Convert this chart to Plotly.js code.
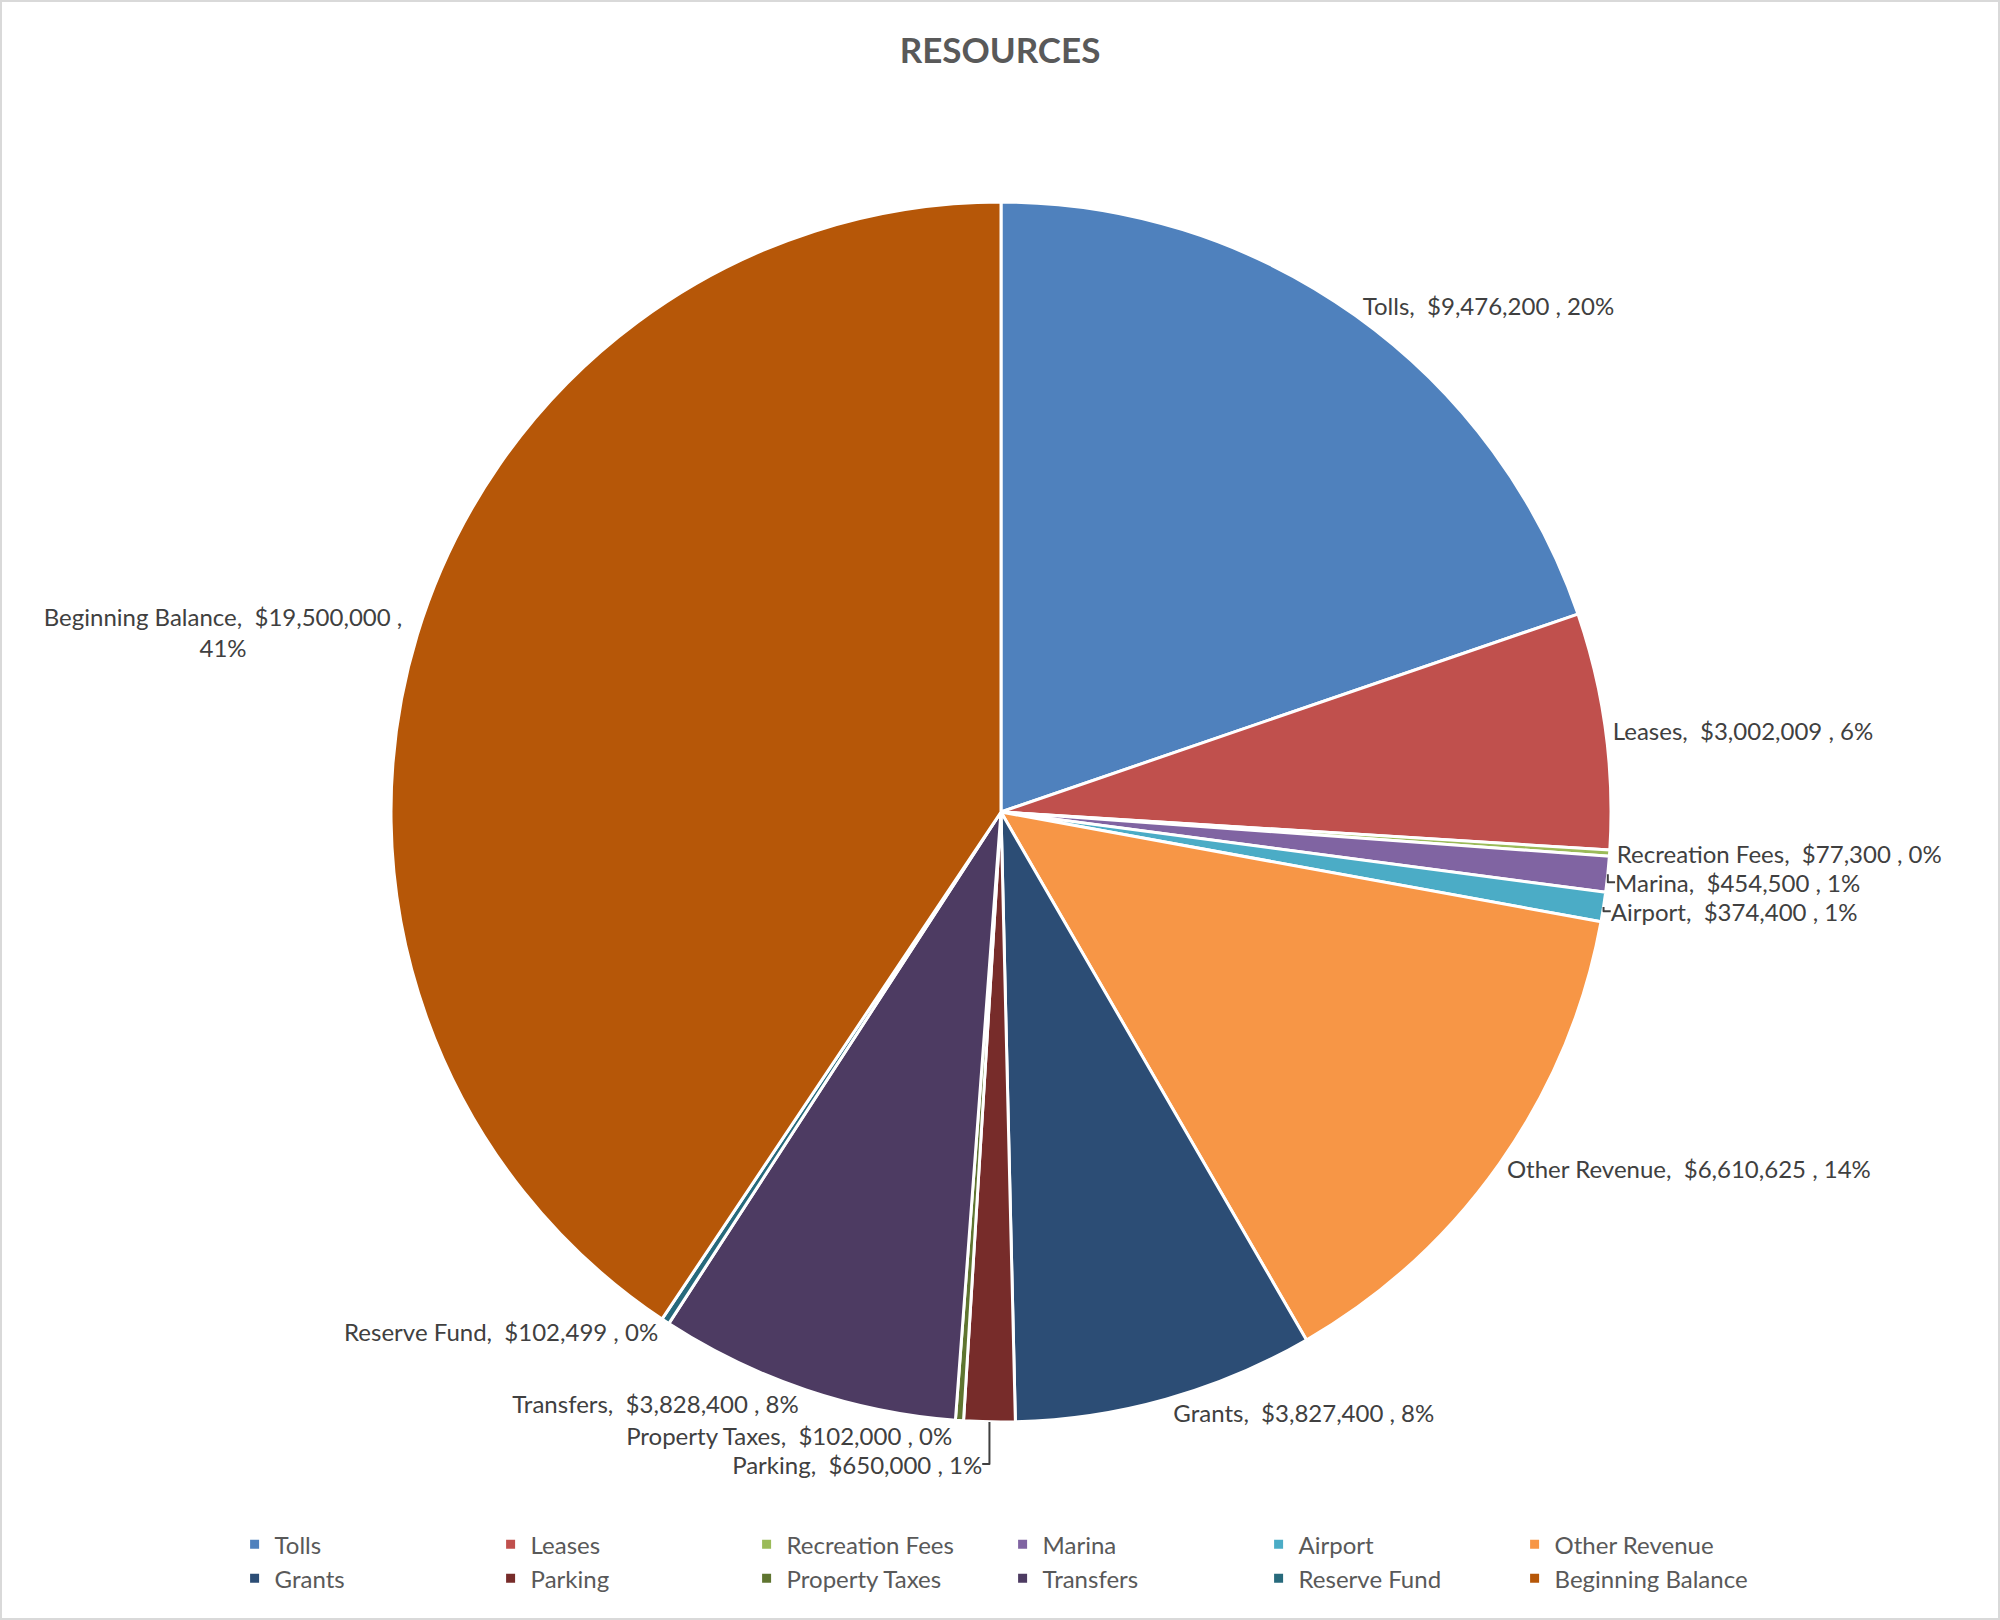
<!DOCTYPE html>
<html>
<head>
<meta charset="utf-8">
<script src="https://cdn.plot.ly/plotly-3.0.1.min.js"></script>
<style>
  body { margin: 0; background: #fff; }
  #resources { width: 2000px; height: 1620px; box-sizing: border-box; border: 2px solid #d9d9d9; }
</style>
</head>
<body>
<div id="resources"></div>
<script>
// resource categories, clockwise from 12 o'clock
var categories = ["Tolls", "Leases", "Recreation Fees", "Marina", "Airport", "Other Revenue",
                  "Grants", "Parking", "Property Taxes", "Transfers", "Reserve Fund", "Beginning Balance"];
var amounts = [9476200, 3002009, 77300, 454500, 374400, 6610625,
               3827400, 650000, 102000, 3828400, 102499, 19500000];
var sliceColors = ["#4F81BD", "#C0504D", "#9BBB59", "#8064A2", "#4BACC6", "#F79646",
                   "#2C4D75", "#772C2A", "#5F7530", "#4D3B62", "#276A7C", "#B65708"];

function buildResources() {
    // the big slice wraps its label onto two lines, like the original
    var templates = categories.map(function (c) {
        if (c === "Beginning Balance") {
            return "%{label},  $%{value:,.0f} ,<br>%{percent:.0%}";
        }
        return "%{label},  $%{value:,.0f} , %{percent:.0%}";
    });

    var data = [
        {
            type: "pie",
            labels: categories,
            values: amounts,
            sort: false,
            direction: "clockwise",
            rotation: 0,
            marker: {
                colors: sliceColors,
                line: { color: "#ffffff", width: 3 }
            },
            texttemplate: templates,
            textposition: "outside",
            textfont: { family: "Lato, 'Open Sans', sans-serif", size: 24, color: "#404040" },
            hoverinfo: "label+value+percent",
            automargin: false
        }
    ];

    var layout = {
        width: 1996,
        height: 1616,
        margin: { l: 199, r: 197, t: 200, b: 196 },
        paper_bgcolor: "#ffffff",
        title: {
            text: "RESOURCES",
            x: 0.5,
            xanchor: "center",
            y: 0.97,
            yanchor: "middle",
            yref: "container",
            font: { family: "Lato, 'Open Sans', sans-serif", size: 35, color: "#595959", weight: "bold" }
        },
        showlegend: true,
        legend: {
            orientation: "h",
            x: 0.021,
            xanchor: "left",
            y: -0.082,
            yanchor: "top",
            entrywidth: 211,
            traceorder: "normal",
            font: { family: "Lato, 'Open Sans', sans-serif", size: 24, color: "#595959" }
        }
    };

    Plotly.newPlot(document.getElementById("resources"), data, layout, { displayModeBar: false });
}

buildResources();
</script>
</body>
</html>
